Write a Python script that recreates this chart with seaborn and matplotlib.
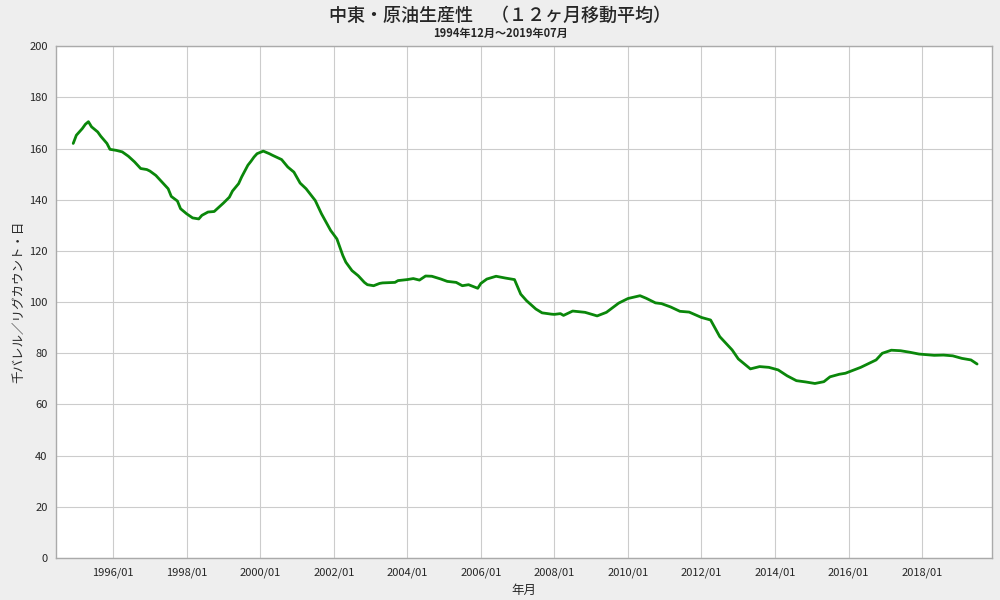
import pandas as pd
import matplotlib
matplotlib.use("Agg")
import matplotlib.pyplot as plt
import matplotlib.dates as mdates
import seaborn as sns

months = [
    "1994-12", "1995-01", "1995-03", "1995-04", "1995-05", "1995-06", "1995-08", "1995-09",
    "1995-11", "1995-12", "1996-02", "1996-04", "1996-06", "1996-08", "1996-10", "1996-12",
    "1997-01", "1997-03", "1997-05", "1997-07", "1997-08", "1997-10", "1997-11", "1998-01",
    "1998-03", "1998-05", "1998-06", "1998-08", "1998-10", "1998-11", "1999-01", "1999-03",
    "1999-04", "1999-06", "1999-07", "1999-09", "1999-10", "1999-11", "1999-12", "2000-01",
    "2000-02", "2000-04", "2000-05", "2000-08", "2000-10", "2000-12", "2001-02", "2001-04",
    "2001-07", "2001-09", "2001-12", "2002-02", "2002-04", "2002-05", "2002-07", "2002-09",
    "2002-11", "2002-12", "2003-02", "2003-04", "2003-05", "2003-09", "2003-10", "2004-01",
    "2004-03", "2004-05", "2004-07", "2004-09", "2004-12", "2005-02", "2005-05", "2005-07",
    "2005-09", "2005-12", "2006-01", "2006-03", "2006-06", "2006-09", "2006-12", "2007-02",
    "2007-04", "2007-07", "2007-09", "2007-12", "2008-01", "2008-03", "2008-04", "2008-07",
    "2008-11", "2009-03", "2009-06", "2009-10", "2010-01", "2010-05", "2010-07", "2010-10",
    "2010-12", "2011-03", "2011-06", "2011-09", "2012-01", "2012-04", "2012-07", "2012-11",
    "2013-01", "2013-05", "2013-08", "2013-11", "2014-02", "2014-05", "2014-08", "2014-11",
    "2015-02", "2015-05", "2015-07", "2015-10", "2015-12", "2016-05", "2016-10", "2016-12",
    "2017-03", "2017-06", "2017-09", "2017-12", "2018-05", "2018-08", "2018-11", "2019-02",
    "2019-05", "2019-07",
]
productivity = [
    162.0, 165.2, 167.8, 169.5, 170.5, 168.5, 166.5, 164.8,
    162.0, 159.7, 159.3, 158.7, 157.0, 154.8, 152.2, 151.8,
    151.2, 149.5, 146.9, 144.3, 141.3, 139.5, 136.5, 134.5,
    132.9, 132.5, 133.9, 135.2, 135.4, 136.5, 138.7, 141.0,
    143.4, 146.3, 148.9, 153.5, 155.0, 156.7, 158.0, 158.5,
    159.0, 158.0, 157.4, 155.7, 152.8, 150.8, 146.5, 144.3,
    139.7, 134.5, 128.0, 124.7, 118.2, 115.6, 112.3, 110.3,
    107.7, 106.8, 106.4, 107.3, 107.5, 107.7, 108.4, 108.8,
    109.2, 108.6, 110.2, 110.1, 109.0, 108.1, 107.7, 106.4,
    106.8, 105.4, 107.3, 109.0, 110.1, 109.4, 108.8, 103.1,
    100.5, 97.3, 95.8, 95.3, 95.2, 95.5, 94.8, 96.5,
    96.0, 94.6, 96.0, 99.6, 101.4, 102.5, 101.5, 99.7,
    99.4, 98.1, 96.4, 96.1, 94.0, 93.0, 86.5, 81.3,
    77.8, 73.9, 74.8, 74.5, 73.5, 71.2, 69.3, 68.8,
    68.2, 68.9, 70.8, 71.8, 72.2, 74.5, 77.4, 80.0,
    81.2, 81.0, 80.4, 79.7, 79.2, 79.3, 79.0, 78.0,
    77.4, 75.8,
]
tick_years = list(range(1996, 2019, 2))

df = pd.DataFrame({"month": pd.to_datetime(months), "value": productivity})

sns.set_style("white")
plt.rcParams["font.family"] = ["Noto Sans CJK JP", "DejaVu Sans"]

fig = plt.figure(figsize=(10, 6), dpi=100, facecolor="#eeeeee")
ax = fig.add_axes([0.056, 0.07, 0.936, 0.853])
ax.set_facecolor("white")

sns.lineplot(data=df, x="month", y="value", color="#0a870a", linewidth=2.0, ax=ax)

ax.set_ylim(0, 200)
ax.set_yticks(range(0, 201, 20))
ax.set_xlim(pd.Timestamp("1994-06-13"), pd.Timestamp("2019-11-26"))
ax.set_xticks(pd.to_datetime([f"{y}-01-01" for y in tick_years]))
ax.xaxis.set_major_formatter(mdates.DateFormatter("%Y/%m"))

ax.grid(True, color="#cccccc", linewidth=0.8)
for s in ax.spines.values():
    s.set_color("#aaaaaa")
    s.set_linewidth(1.0)
ax.tick_params(axis="y", length=3, color="#aaaaaa", labelsize=8, pad=3)
ax.tick_params(axis="x", length=0, labelsize=8, pad=7)

ax.set_xlabel("年月", fontsize=9, labelpad=4)
ax.set_ylabel("千バレル／リグカウント・日", fontsize=9, labelpad=3)

fig.text(0.5, 0.974, "中東・原油生産性　（１２ヶ月移動平均）", ha="center", va="center",
         fontsize=13, fontweight="medium")
fig.text(0.5, 0.945, "1994年12月～2019年07月", ha="center", va="center",
         fontsize=8, fontweight="bold")

fig.savefig("out.png", dpi=100, facecolor=fig.get_facecolor())
